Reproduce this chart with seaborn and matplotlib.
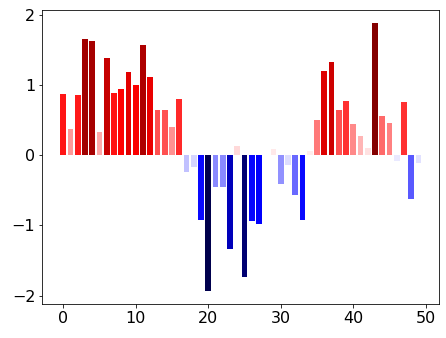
import matplotlib
matplotlib.use("Agg")
import matplotlib.pyplot as plt
import matplotlib.colors as mcolors
import numpy as np
import pandas as pd
import seaborn as sns

positions = list(range(50))
values = [0.88, 0.38, 0.865, 1.66, 1.63, 0.33, 1.39, 0.89, 0.95, 1.19,
          1.01, 1.57, 1.12, 0.65, 0.65, 0.41, 0.81, -0.23, -0.16, -0.92,
          -1.93, -0.45, -0.45, -1.33, 0.14, -1.73, -0.94, -0.98, 0.005, 0.085,
          -0.41, -0.13, -0.57, -0.92, 0.07, 0.51, 1.21, 1.33, 0.65, 0.78,
          0.45, 0.28, 0.11, 1.89, 0.57, 0.47, -0.085, 0.77, -0.62, -0.11]

df = pd.DataFrame({"x": positions, "y": values})
vabs = max(abs(v) for v in values)
norm = mcolors.Normalize(vmin=-vabs, vmax=vabs)
cmap = plt.get_cmap("seismic")
palette = {p: cmap(norm(v)) for p, v in zip(positions, values)}

plt.rcParams["font.size"] = 16
fig = plt.figure(figsize=(446 / 72, 338 / 72), dpi=72)
ax = fig.add_axes([42.3 / 446, 1 - 304 / 338, (439.5 - 42.3) / 446, (304 - 9.7) / 338])

sns.barplot(data=df, x="x", y="y", hue="x", palette=palette, native_scale=True,
            legend=False, errorbar=None, saturation=1, width=0.8, linewidth=0, ax=ax)

xmin, xmax = min(positions) - 0.4, max(positions) + 0.4
xr = xmax - xmin
ax.set_xlim(xmin - 0.05 * xr, xmax + 0.05 * xr)
ymin, ymax = min(min(values), 0), max(values)
yr = ymax - ymin
ax.set_ylim(ymin - 0.05 * yr, ymax + 0.05 * yr)
ax.set_xticks([0, 10, 20, 30, 40, 50])
ax.set_yticks([-2, -1, 0, 1, 2])
ax.set_xlabel("")
ax.set_ylabel("")
ax.tick_params(labelsize=16)

fig.savefig("out.png", dpi=72)
